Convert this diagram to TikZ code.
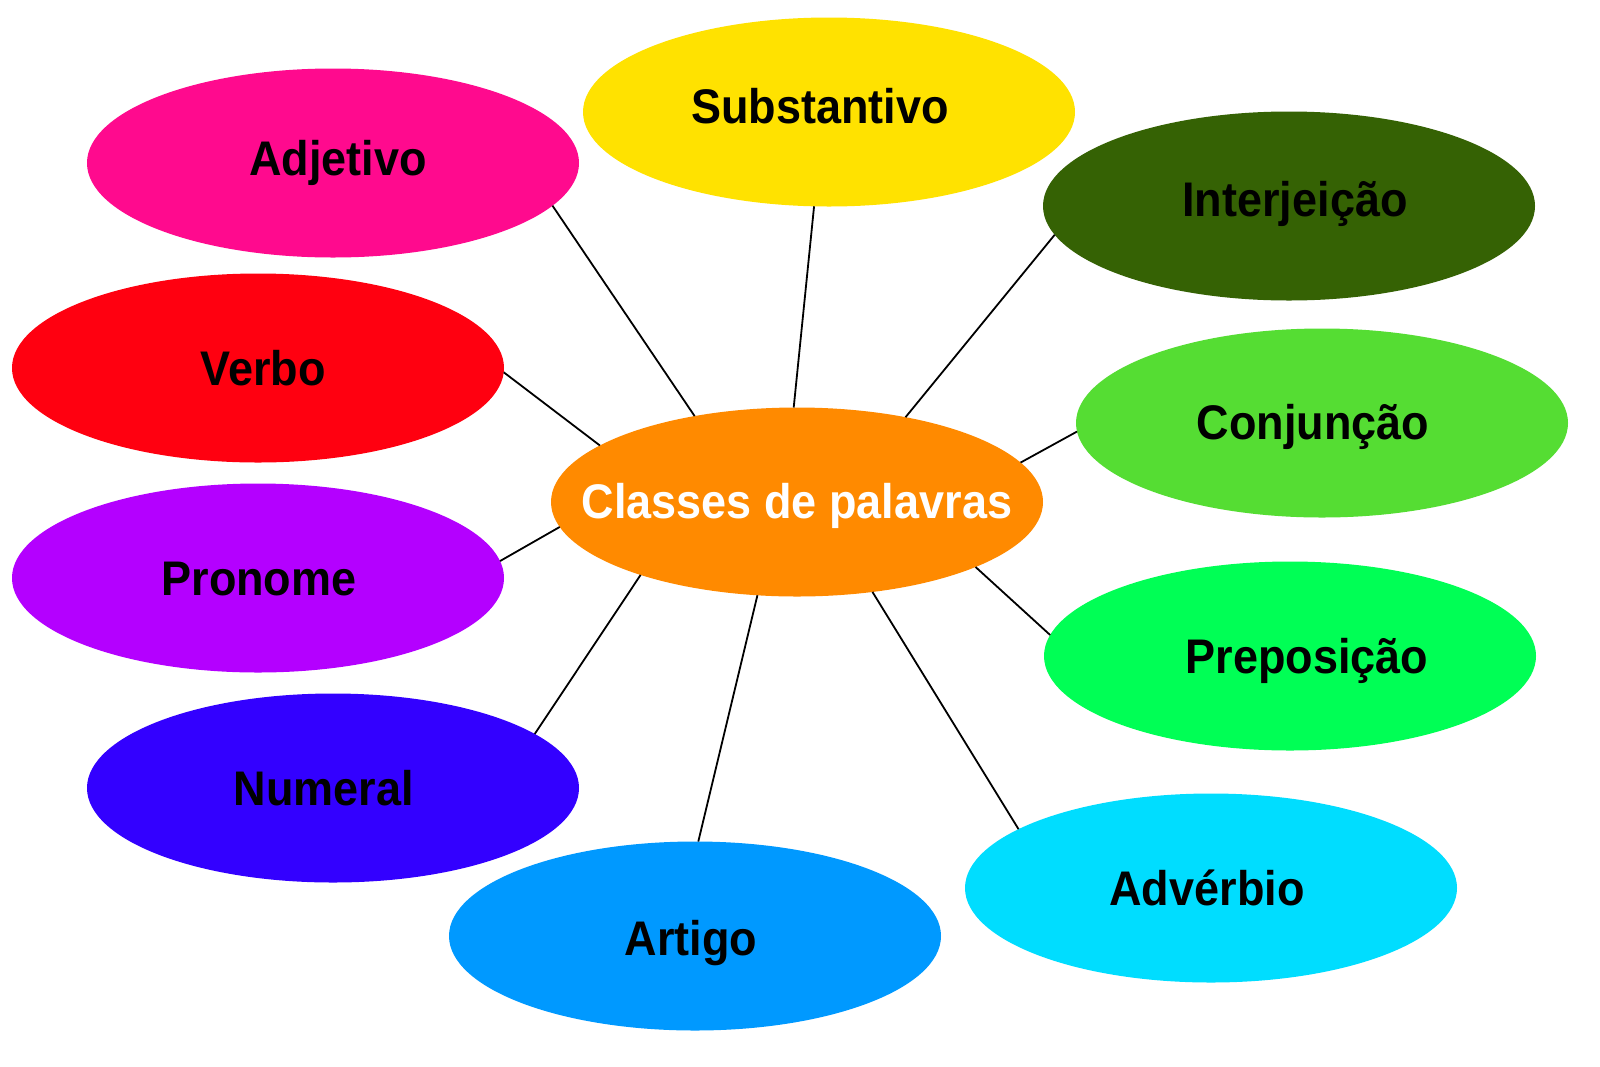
\documentclass[tikz,border=0pt]{standalone}
\usepackage{fontspec}
\usepackage{graphicx}
\setmainfont{Liberation Sans}
\usetikzlibrary{shapes.geometric}
\definecolor{cOrange}{HTML}{FF8A00}
\definecolor{cYellow}{HTML}{FFE200}
\definecolor{cMagenta}{HTML}{FF0A8E}
\definecolor{cDarkGreen}{HTML}{356204}
\definecolor{cRed}{HTML}{FF0010}
\definecolor{cLightGreen}{HTML}{55DD33}
\definecolor{cPurple}{HTML}{B400FF}
\definecolor{cSpring}{HTML}{00FF55}
\definecolor{cBlue}{HTML}{3300FF}
\definecolor{cSky}{HTML}{0099FF}
\definecolor{cCyan}{HTML}{00DDFF}
\newcommand\tallbox[1]{\scalebox{1}[1.08]{#1}}
\tikzset{
  blob/.style={ellipse, draw=none, fill=#1, minimum width=246pt, minimum height=94.5pt, inner sep=0pt, outer sep=0pt},
  lbl/.style={anchor=base, inner sep=0pt, font=\fontsize{22.5}{24}\selectfont\bfseries, text=black},
  link/.style={draw=black, line width=0.9pt}
}
\begin{document}
\begin{tikzpicture}[x=0.5pt,y=-0.5pt]
\useasboundingbox (0,0) rectangle (1600,1066);
\fill[white] (0,0) rectangle (1600,1066);
% ellipses
\node[blob=cOrange] (C) at (797,502) {};
\node[blob=cYellow] (sub) at (829,112) {};
\node[blob=cMagenta] (adj) at (333,163) {};
\node[blob=cDarkGreen] (int) at (1289,206) {};
\node[blob=cRed] (ver) at (258,368) {};
\node[blob=cLightGreen] (con) at (1322,423) {};
\node[blob=cPurple] (pro) at (258,578) {};
\node[blob=cSpring] (pre) at (1290,656) {};
\node[blob=cBlue] (num) at (333,788) {};
\node[blob=cSky] (art) at (695,936) {};
\node[blob=cCyan] (adv) at (1211,888) {};
% labels
\node[lbl, text=white] (tC) at (797,518) {\tallbox{Classes de palavras}};
\node[lbl] (tsub) at (820,123) {\tallbox{Substantivo}};
\node[lbl] (tadj) at (338,175) {\tallbox{Adjetivo}};
\node[lbl] (tint) at (1295,216) {\tallbox{Interjeição}};
\node[lbl] (tver) at (263,385) {\tallbox{Verbo}};
\node[lbl] (tcon) at (1313,439) {\tallbox{Conjunção}};
\node[lbl] (tpro) at (259,595) {\tallbox{Pronome}};
\node[lbl] (tpre) at (1307,673) {\tallbox{Preposição}};
\node[lbl] (tnum) at (324,805) {\tallbox{Numeral}};
\node[lbl] (tart) at (691,955) {\tallbox{Artigo}};
\node[lbl] (tadv) at (1207,905) {\tallbox{Advérbio}};
% connectors
\draw[link] (adj.349) -- (C.140);
\draw[link] (sub.261) -- (C.92);
\draw[link] (int.187) -- (C.38.5);
\draw[link] (ver.359) -- (C.164);
\draw[link] (con.182) -- (C.10);
\draw[link] (pro.4) -- (C.186);
\draw[link] (pre.175) -- (C.340);
\draw[link] (num.15) -- (C.205);
\draw[link] (art.88) -- (C.247);
\draw[link] (adv.163) -- (C.310);
\end{tikzpicture}
\end{document}
